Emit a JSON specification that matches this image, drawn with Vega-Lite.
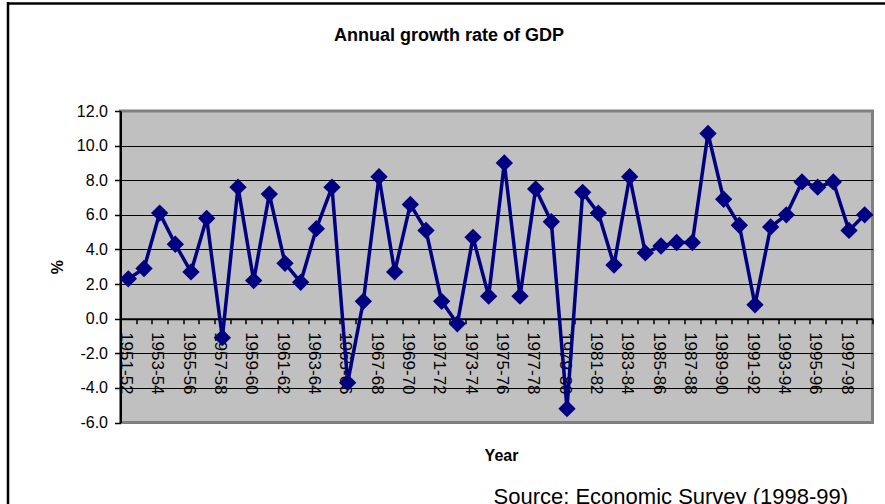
{
  "$schema": "https://vega.github.io/schema/vega-lite/v6.json",
  "width": 752,
  "height": 311.5,
  "autosize": {"type": "none"},
  "padding": {"left": 120.5, "top": 111, "right": 12.5, "bottom": 81.5},
  "background": "white",
  "title": {
    "text": "Annual growth rate of GDP",
    "font": "Liberation Sans",
    "fontSize": 18,
    "fontWeight": "bold",
    "color": "black",
    "anchor": "middle",
    "baseline": "alphabetic",
    "offset": -58.5,
    "dx": -47.5
  },
  "config": {
    "font": "Liberation Sans",
    "view": {"fill": "#C0C0C0", "stroke": "#808080", "strokeWidth": 3}
  },
  "data": {
    "values": [
      {"year": "1951-52", "growth": 2.3},
      {"year": "1952-53", "growth": 2.9},
      {"year": "1953-54", "growth": 6.1},
      {"year": "1954-55", "growth": 4.3},
      {"year": "1955-56", "growth": 2.7},
      {"year": "1956-57", "growth": 5.8},
      {"year": "1957-58", "growth": -1.1},
      {"year": "1958-59", "growth": 7.6},
      {"year": "1959-60", "growth": 2.2},
      {"year": "1960-61", "growth": 7.2},
      {"year": "1961-62", "growth": 3.2},
      {"year": "1962-63", "growth": 2.1},
      {"year": "1963-64", "growth": 5.2},
      {"year": "1964-65", "growth": 7.6},
      {"year": "1965-66", "growth": -3.7},
      {"year": "1966-67", "growth": 1.0},
      {"year": "1967-68", "growth": 8.2},
      {"year": "1968-69", "growth": 2.7},
      {"year": "1969-70", "growth": 6.6},
      {"year": "1970-71", "growth": 5.1},
      {"year": "1971-72", "growth": 1.0},
      {"year": "1972-73", "growth": -0.3},
      {"year": "1973-74", "growth": 4.7},
      {"year": "1974-75", "growth": 1.3},
      {"year": "1975-76", "growth": 9.0},
      {"year": "1976-77", "growth": 1.3},
      {"year": "1977-78", "growth": 7.5},
      {"year": "1978-79", "growth": 5.6},
      {"year": "1979-80", "growth": -5.2},
      {"year": "1980-81", "growth": 7.3},
      {"year": "1981-82", "growth": 6.1},
      {"year": "1982-83", "growth": 3.1},
      {"year": "1983-84", "growth": 8.2},
      {"year": "1984-85", "growth": 3.8},
      {"year": "1985-86", "growth": 4.2},
      {"year": "1986-87", "growth": 4.4},
      {"year": "1987-88", "growth": 4.4},
      {"year": "1988-89", "growth": 10.7},
      {"year": "1989-90", "growth": 6.9},
      {"year": "1990-91", "growth": 5.4},
      {"year": "1991-92", "growth": 0.8},
      {"year": "1992-93", "growth": 5.3},
      {"year": "1993-94", "growth": 6.0},
      {"year": "1994-95", "growth": 7.9},
      {"year": "1995-96", "growth": 7.6},
      {"year": "1996-97", "growth": 7.9},
      {"year": "1997-98", "growth": 5.1},
      {"year": "1998-99", "growth": 6.0}
    ]
  },
  "layer": [
    {
      "mark": {"type": "line", "color": "#000080", "strokeWidth": 3.5, "strokeJoin": "round"},
      "encoding": {
        "x": {
          "field": "year",
          "type": "ordinal",
          "sort": null,
          "bandPosition": 0.5,
          "scale": {"type": "band", "paddingInner": 0, "paddingOuter": 0},
          "axis": {
            "orient": "bottom",
            "offset": -103.83,
            "tickBand": "extent",
            "labelAngle": 90,
            "labelExpr": "toNumber(substring(datum.value, 0, 4)) % 2 == 1 ? datum.value : ''",
            "labelOverlap": false,
            "labelBound": false,
            "labelFlush": false,
            "labelFont": "Liberation Sans",
            "labelFontSize": 17,
            "labelColor": "black",
            "labelPadding": 8,
            "labelOffset": -3,
            "tickColor": "black",
            "tickSize": 5,
            "tickWidth": 1.5,
            "domainColor": "black",
            "domainWidth": 2,
            "grid": false,
            "title": "Year",
            "titleFont": "Liberation Sans",
            "titleFontSize": 16,
            "titleFontWeight": "bold",
            "titleColor": "black",
            "titleAlign": "center",
            "titleBaseline": "alphabetic",
            "titleX": 380.5,
            "titleY": 142
          }
        },
        "y": {
          "field": "growth",
          "type": "quantitative",
          "scale": {"domain": [-6, 12], "nice": false, "zero": false},
          "axis": {
            "orient": "left",
            "values": [-6, -4, -2, 0, 2, 4, 6, 8, 10, 12],
            "tickCount": 20,
            "labelExpr": "replace(format(datum.value, '.1f'), '\u2212', '-')",
            "labelOverlap": false,
            "labelBound": false,
            "labelFlush": false,
            "labelFont": "Liberation Sans",
            "labelFontSize": 16,
            "labelColor": "black",
            "labelPadding": 7,
            "tickColor": "black",
            "tickSize": 6,
            "tickWidth": 1.5,
            "domainColor": "black",
            "domainWidth": 2,
            "grid": true,
            "gridColor": {
              "condition": {"test": "datum.value == 12 || datum.value == -6", "value": "transparent"},
              "value": "black"
            },
            "gridWidth": 1,
            "title": "%",
            "titleFont": "Liberation Sans",
            "titleFontSize": 16,
            "titleFontWeight": "bold",
            "titleColor": "black",
            "titleAngle": -90,
            "titleAlign": "center",
            "titleBaseline": "middle",
            "titleX": -63.5,
            "titleY": 155.75
          }
        }
      }
    },
    {
      "mark": {"type": "point", "shape": "diamond", "filled": true, "size": 300, "color": "#000080", "opacity": 1},
      "encoding": {
        "x": {
          "field": "year",
          "type": "ordinal",
          "sort": null,
          "bandPosition": 0.5,
          "scale": {"type": "band", "paddingInner": 0, "paddingOuter": 0},
          "axis": {
            "orient": "bottom",
            "offset": 100,
            "values": ["1951-52"],
            "bandPosition": 0,
            "labels": false,
            "domain": false,
            "grid": false,
            "ticks": true,
            "tickColor": "black",
            "tickWidth": 2.5,
            "tickOffset": -113.2,
            "tickSize": -521,
            "title": "Source: Economic Survey (1998-99)",
            "titleFont": "Liberation Sans",
            "titleFontSize": 22,
            "titleFontWeight": "normal",
            "titleColor": "black",
            "titleAlign": "left",
            "titleBaseline": "alphabetic",
            "titleX": 372.5,
            "titleY": -19.5
          }
        },
        "y": {
          "field": "growth",
          "type": "quantitative",
          "axis": {
            "orient": "left",
            "offset": 113.2,
            "values": [12],
            "labels": false,
            "domain": false,
            "grid": false,
            "ticks": true,
            "tickColor": "black",
            "tickWidth": 2.5,
            "tickOffset": -108.3,
            "tickSize": -883,
            "title": null
          }
        }
      }
    }
  ],
  "resolve": {"axis": {"x": "independent", "y": "independent"}}
}
